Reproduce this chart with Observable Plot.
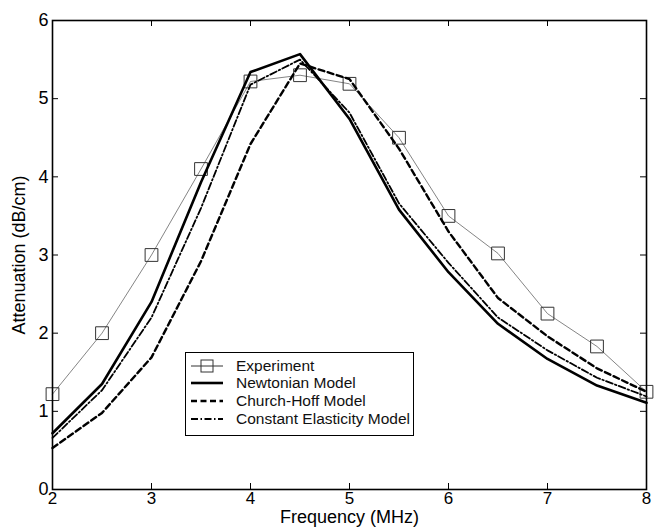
<!DOCTYPE html>
<html>
<head>
<meta charset="utf-8">
<script src="https://cdn.jsdelivr.net/npm/d3@7"></script>
<script src="https://cdn.jsdelivr.net/npm/@observablehq/plot@0.6"></script>
<style>
  body { margin: 0; background: white; }
  #wrap { position: relative; width: 659px; height: 527px; font-family: "Liberation Sans", Arial, sans-serif; }
  #wrap svg text { font-size: 18px; }
  #wrap svg g[aria-label="x-axis tick label"] text { font-size: 17px; }
  #legend { position: absolute; left: 185px; top: 352px; width: 229px; height: 84px; border: 1.2px solid black; background: white; box-sizing: border-box; }
  .row { position: absolute; left: 0; height: 18px; display: flex; align-items: center; }
  .row svg { width: 44px; height: 18px; display: block; }
  .row span { font-size: 15.5px; margin-left: 6px; color: #111; white-space: nowrap; }
</style>
</head>
<body>
<div id="wrap"></div>
<script>
// ---- data ----
const freq = [2, 2.5, 3, 3.5, 4, 4.5, 5, 5.5, 6, 6.5, 7, 7.5, 8];
const experiment = [1.22, 2.0, 3.0, 4.1, 5.22, 5.3, 5.19, 4.5, 3.5, 3.02, 2.25, 1.83, 1.25];
const newtonian  = [0.72, 1.35, 2.4, 3.93, 5.34, 5.57, 4.74, 3.58, 2.78, 2.12, 1.67, 1.33, 1.11];
const churchHoff = [0.53, 0.98, 1.69, 2.92, 4.42, 5.45, 5.25, 4.36, 3.3, 2.45, 1.96, 1.55, 1.25];
const constElast = [0.66, 1.27, 2.2, 3.6, 5.18, 5.5, 4.82, 3.66, 2.9, 2.2, 1.78, 1.43, 1.19];
const seriesNames = ["Experiment", "Newtonian Model", "Church-Hoff Model", "Constant Elasticity Model"];
const xTicks = [2, 3, 4, 5, 6, 7, 8];
const yTicks = [0, 1, 2, 3, 4, 5, 6];
const xLabel = "Frequency (MHz)";
const yLabel = "Attenuation (dB/cm)";

const toRows = (vals) => freq.map((f, i) => ({f, v: vals[i]}));
const expRows = toRows(experiment);

const styles = {
  "Newtonian Model": {stroke: "black", strokeWidth: 2.6},
  "Church-Hoff Model": {stroke: "black", strokeWidth: 2.4, strokeDasharray: "6,3.5"},
  "Constant Elasticity Model": {stroke: "black", strokeWidth: 1.8, strokeDasharray: "7,2.5,1.5,2.5"}
};
const modelValues = {
  "Newtonian Model": newtonian,
  "Church-Hoff Model": churchHoff,
  "Constant Elasticity Model": constElast
};

const W = 659, H = 527, mL = 52, mR = 13, mT = 20, mB = 38;
const plotH = H - mT - mB, plotW = W - mL - mR, tk = 6;
const intFmt = d3.format("d");

const chart = Plot.plot({
  width: W, height: H,
  marginLeft: mL, marginRight: mR, marginTop: mT, marginBottom: mB,
  style: {fontFamily: "'Liberation Sans', Arial, sans-serif", fontSize: "18px", background: "white", color: "black", overflow: "visible"},
  x: {domain: [2, 8], axis: null},
  y: {domain: [0, 6], axis: null},
  marks: [
    Plot.axisX(xTicks, {anchor: "bottom", tickSize: 0, tickPadding: 2, tickFormat: intFmt, fontSize: 17, label: xLabel, labelAnchor: "center", labelOffset: 33, labelArrow: "none"}),
    Plot.axisY(yTicks, {anchor: "left", tickSize: 0, tickPadding: 4, tickFormat: intFmt, fontSize: 18, label: yLabel, labelAnchor: "center", labelOffset: 40, labelArrow: "none"}),
    // inward ticks on all four sides
    Plot.ruleX(xTicks, {x: d => d, insetTop: plotH - tk, stroke: "black", strokeWidth: 1}),
    Plot.ruleX(xTicks, {x: d => d, insetBottom: plotH - tk, stroke: "black", strokeWidth: 1}),
    Plot.ruleY(yTicks, {y: d => d, insetRight: plotW - tk, stroke: "black", strokeWidth: 1}),
    Plot.ruleY(yTicks, {y: d => d, insetLeft: plotW - tk, stroke: "black", strokeWidth: 1}),
    // experiment
    Plot.line(expRows, {x: "f", y: "v", stroke: "#666", strokeWidth: 0.8}),
    Plot.dot(expRows, {x: "f", y: "v", symbol: "square", r: 7.2, stroke: "#333", fill: "none", strokeWidth: 1}),
    // models
    ...Object.keys(modelValues).map(name => Plot.line(toRows(modelValues[name]), {x: "f", y: "v", ...styles[name]})),
    Plot.frame({stroke: "black", strokeWidth: 1.6})
  ]
});

const wrap = document.getElementById("wrap");
wrap.appendChild(chart);

// ---- legend ----
const legend = document.createElement("div");
legend.id = "legend";
const rowTops = [4, 21, 39, 57];
seriesNames.forEach((name, i) => {
  const row = document.createElement("div");
  row.className = "row";
  row.style.top = rowTops[i] + "px";
  let svg;
  if (name === "Experiment") {
    svg = `<svg viewBox="0 0 44 18"><line x1="5" y1="9" x2="37" y2="9" stroke="#333" stroke-width="1"/><rect x="15" y="3" width="12" height="12" fill="none" stroke="#333" stroke-width="1"/></svg>`;
  } else {
    const s = styles[name];
    svg = `<svg viewBox="0 0 44 18"><line x1="5" y1="9" x2="37" y2="9" stroke="${s.stroke}" stroke-width="${s.strokeWidth}" stroke-dasharray="${s.strokeDasharray || ""}"/></svg>`;
  }
  row.innerHTML = svg + `<span>${name}</span>`;
  legend.appendChild(row);
});
wrap.appendChild(legend);
</script>
</body>
</html>
